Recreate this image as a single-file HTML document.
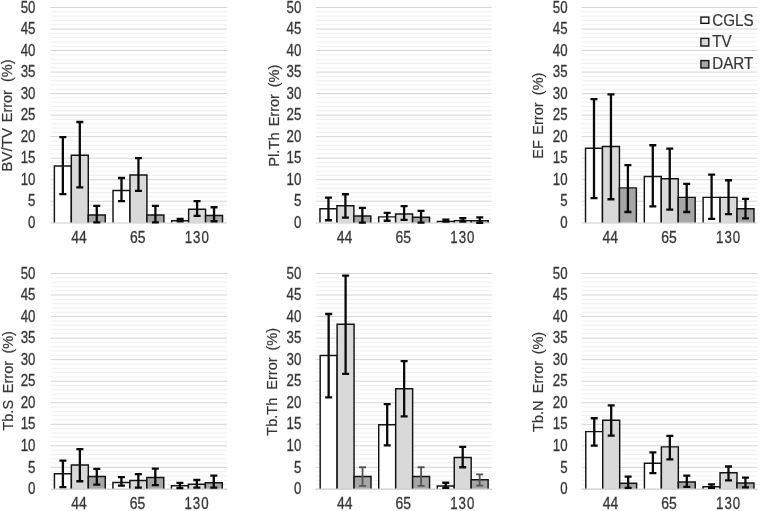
<!DOCTYPE html>
<html><head><meta charset="utf-8"><title>Error charts</title>
<style>
html,body{margin:0;padding:0;background:#fff;}
body{width:760px;height:511px;overflow:hidden;font-family:"Liberation Sans",sans-serif;}
svg{display:block;filter:grayscale(1) blur(0.4px);}
</style></head><body>
<svg width="760" height="511" viewBox="0 0 760 511" font-family="'Liberation Sans', sans-serif">
<rect width="760" height="511" fill="#fff"/>
<line x1="50.50" x2="227.00" y1="218.44" y2="218.44" stroke="#f0f0f0" stroke-width="1"/>
<line x1="50.50" x2="227.00" y1="214.14" y2="214.14" stroke="#f0f0f0" stroke-width="1"/>
<line x1="50.50" x2="227.00" y1="209.84" y2="209.84" stroke="#f0f0f0" stroke-width="1"/>
<line x1="50.50" x2="227.00" y1="205.53" y2="205.53" stroke="#f0f0f0" stroke-width="1"/>
<line x1="50.50" x2="227.00" y1="201.22" y2="201.22" stroke="#d4d4d4" stroke-width="1"/>
<line x1="50.50" x2="227.00" y1="196.92" y2="196.92" stroke="#f0f0f0" stroke-width="1"/>
<line x1="50.50" x2="227.00" y1="192.62" y2="192.62" stroke="#f0f0f0" stroke-width="1"/>
<line x1="50.50" x2="227.00" y1="188.31" y2="188.31" stroke="#f0f0f0" stroke-width="1"/>
<line x1="50.50" x2="227.00" y1="184.00" y2="184.00" stroke="#f0f0f0" stroke-width="1"/>
<line x1="50.50" x2="227.00" y1="179.70" y2="179.70" stroke="#d4d4d4" stroke-width="1"/>
<line x1="50.50" x2="227.00" y1="175.40" y2="175.40" stroke="#f0f0f0" stroke-width="1"/>
<line x1="50.50" x2="227.00" y1="171.09" y2="171.09" stroke="#f0f0f0" stroke-width="1"/>
<line x1="50.50" x2="227.00" y1="166.78" y2="166.78" stroke="#f0f0f0" stroke-width="1"/>
<line x1="50.50" x2="227.00" y1="162.48" y2="162.48" stroke="#f0f0f0" stroke-width="1"/>
<line x1="50.50" x2="227.00" y1="158.18" y2="158.18" stroke="#d4d4d4" stroke-width="1"/>
<line x1="50.50" x2="227.00" y1="153.87" y2="153.87" stroke="#f0f0f0" stroke-width="1"/>
<line x1="50.50" x2="227.00" y1="149.56" y2="149.56" stroke="#f0f0f0" stroke-width="1"/>
<line x1="50.50" x2="227.00" y1="145.26" y2="145.26" stroke="#f0f0f0" stroke-width="1"/>
<line x1="50.50" x2="227.00" y1="140.96" y2="140.96" stroke="#f0f0f0" stroke-width="1"/>
<line x1="50.50" x2="227.00" y1="136.65" y2="136.65" stroke="#d4d4d4" stroke-width="1"/>
<line x1="50.50" x2="227.00" y1="132.34" y2="132.34" stroke="#f0f0f0" stroke-width="1"/>
<line x1="50.50" x2="227.00" y1="128.04" y2="128.04" stroke="#f0f0f0" stroke-width="1"/>
<line x1="50.50" x2="227.00" y1="123.74" y2="123.74" stroke="#f0f0f0" stroke-width="1"/>
<line x1="50.50" x2="227.00" y1="119.43" y2="119.43" stroke="#f0f0f0" stroke-width="1"/>
<line x1="50.50" x2="227.00" y1="115.12" y2="115.12" stroke="#d4d4d4" stroke-width="1"/>
<line x1="50.50" x2="227.00" y1="110.82" y2="110.82" stroke="#f0f0f0" stroke-width="1"/>
<line x1="50.50" x2="227.00" y1="106.52" y2="106.52" stroke="#f0f0f0" stroke-width="1"/>
<line x1="50.50" x2="227.00" y1="102.21" y2="102.21" stroke="#f0f0f0" stroke-width="1"/>
<line x1="50.50" x2="227.00" y1="97.91" y2="97.91" stroke="#f0f0f0" stroke-width="1"/>
<line x1="50.50" x2="227.00" y1="93.60" y2="93.60" stroke="#d4d4d4" stroke-width="1"/>
<line x1="50.50" x2="227.00" y1="89.30" y2="89.30" stroke="#f0f0f0" stroke-width="1"/>
<line x1="50.50" x2="227.00" y1="84.99" y2="84.99" stroke="#f0f0f0" stroke-width="1"/>
<line x1="50.50" x2="227.00" y1="80.69" y2="80.69" stroke="#f0f0f0" stroke-width="1"/>
<line x1="50.50" x2="227.00" y1="76.38" y2="76.38" stroke="#f0f0f0" stroke-width="1"/>
<line x1="50.50" x2="227.00" y1="72.08" y2="72.08" stroke="#d4d4d4" stroke-width="1"/>
<line x1="50.50" x2="227.00" y1="67.77" y2="67.77" stroke="#f0f0f0" stroke-width="1"/>
<line x1="50.50" x2="227.00" y1="63.47" y2="63.47" stroke="#f0f0f0" stroke-width="1"/>
<line x1="50.50" x2="227.00" y1="59.16" y2="59.16" stroke="#f0f0f0" stroke-width="1"/>
<line x1="50.50" x2="227.00" y1="54.86" y2="54.86" stroke="#f0f0f0" stroke-width="1"/>
<line x1="50.50" x2="227.00" y1="50.55" y2="50.55" stroke="#d4d4d4" stroke-width="1"/>
<line x1="50.50" x2="227.00" y1="46.25" y2="46.25" stroke="#f0f0f0" stroke-width="1"/>
<line x1="50.50" x2="227.00" y1="41.94" y2="41.94" stroke="#f0f0f0" stroke-width="1"/>
<line x1="50.50" x2="227.00" y1="37.64" y2="37.64" stroke="#f0f0f0" stroke-width="1"/>
<line x1="50.50" x2="227.00" y1="33.33" y2="33.33" stroke="#f0f0f0" stroke-width="1"/>
<line x1="50.50" x2="227.00" y1="29.03" y2="29.03" stroke="#d4d4d4" stroke-width="1"/>
<line x1="50.50" x2="227.00" y1="24.72" y2="24.72" stroke="#f0f0f0" stroke-width="1"/>
<line x1="50.50" x2="227.00" y1="20.42" y2="20.42" stroke="#f0f0f0" stroke-width="1"/>
<line x1="50.50" x2="227.00" y1="16.11" y2="16.11" stroke="#f0f0f0" stroke-width="1"/>
<line x1="50.50" x2="227.00" y1="11.81" y2="11.81" stroke="#f0f0f0" stroke-width="1"/>
<line x1="50.50" x2="227.00" y1="7.50" y2="7.50" stroke="#d4d4d4" stroke-width="1"/>
<text transform="translate(35.50,227.95) scale(0.83,1)" font-size="16" fill="#363636" text-anchor="end" stroke="#363636" stroke-width="0.3" xml:space="preserve">0</text>
<text transform="translate(35.50,206.42) scale(0.83,1)" font-size="16" fill="#363636" text-anchor="end" stroke="#363636" stroke-width="0.3" xml:space="preserve">5</text>
<text transform="translate(35.50,184.90) scale(0.83,1)" font-size="16" fill="#363636" text-anchor="end" stroke="#363636" stroke-width="0.3" xml:space="preserve">10</text>
<text transform="translate(35.50,163.38) scale(0.83,1)" font-size="16" fill="#363636" text-anchor="end" stroke="#363636" stroke-width="0.3" xml:space="preserve">15</text>
<text transform="translate(35.50,141.85) scale(0.83,1)" font-size="16" fill="#363636" text-anchor="end" stroke="#363636" stroke-width="0.3" xml:space="preserve">20</text>
<text transform="translate(35.50,120.33) scale(0.83,1)" font-size="16" fill="#363636" text-anchor="end" stroke="#363636" stroke-width="0.3" xml:space="preserve">25</text>
<text transform="translate(35.50,98.80) scale(0.83,1)" font-size="16" fill="#363636" text-anchor="end" stroke="#363636" stroke-width="0.3" xml:space="preserve">30</text>
<text transform="translate(35.50,77.28) scale(0.83,1)" font-size="16" fill="#363636" text-anchor="end" stroke="#363636" stroke-width="0.3" xml:space="preserve">35</text>
<text transform="translate(35.50,55.75) scale(0.83,1)" font-size="16" fill="#363636" text-anchor="end" stroke="#363636" stroke-width="0.3" xml:space="preserve">40</text>
<text transform="translate(35.50,34.23) scale(0.83,1)" font-size="16" fill="#363636" text-anchor="end" stroke="#363636" stroke-width="0.3" xml:space="preserve">45</text>
<text transform="translate(35.50,12.70) scale(0.83,1)" font-size="16" fill="#363636" text-anchor="end" stroke="#363636" stroke-width="0.3" xml:space="preserve">50</text>
<text transform="translate(12.10,171.86) rotate(-90) scale(1.005,1)" font-size="15.2" fill="#363636" text-anchor="start" stroke="#363636" stroke-width="0.2" xml:space="preserve">BV/TV</text>
<text transform="translate(12.10,122.30) rotate(-90) scale(0.955,1)" font-size="15.2" fill="#363636" text-anchor="start" stroke="#363636" stroke-width="0.2" xml:space="preserve">Error</text>
<text transform="translate(12.10,81.97) rotate(-90) scale(0.955,1)" font-size="15.2" fill="#363636" text-anchor="start" stroke="#363636" stroke-width="0.2" xml:space="preserve">(%)</text>
<path d="M54.38 222.75V165.92h16.95V222.75" fill="#ffffff" stroke="#141414" stroke-width="1.45"/>
<path d="M71.33 222.75V155.16h16.95V222.75" fill="#d9d9d9" stroke="#141414" stroke-width="1.45"/>
<path d="M88.28 222.75V215.00h16.95V222.75" fill="#a6a6a6" stroke="#141414" stroke-width="1.45"/>
<path d="M113.02 222.75V190.46h16.95V222.75" fill="#ffffff" stroke="#141414" stroke-width="1.45"/>
<path d="M129.97 222.75V174.96h16.95V222.75" fill="#d9d9d9" stroke="#141414" stroke-width="1.45"/>
<path d="M146.92 222.75V215.00h16.95V222.75" fill="#a6a6a6" stroke="#141414" stroke-width="1.45"/>
<path d="M171.68 222.75V220.81h16.95V222.75" fill="#ffffff" stroke="#141414" stroke-width="1.45"/>
<path d="M188.62 222.75V209.19h16.95V222.75" fill="#d9d9d9" stroke="#141414" stroke-width="1.45"/>
<path d="M205.58 222.75V215.43h16.95V222.75" fill="#a6a6a6" stroke="#141414" stroke-width="1.45"/>
<line x1="50.50" x2="227.00" y1="223.00" y2="223.00" stroke="#cccccc" stroke-width="1.1"/>
<path d="M62.85 137.08V194.12M59.35 137.08h7M59.35 194.12h7" stroke="#0a0a0a" stroke-width="2.3" fill="none"/>
<path d="M79.80 122.01V187.45M76.30 122.01h7M76.30 187.45h7" stroke="#0a0a0a" stroke-width="2.3" fill="none"/>
<path d="M96.75 205.96V222.32M93.25 205.96h7M93.25 222.32h7" stroke="#0a0a0a" stroke-width="2.3" fill="none"/>
<text transform="translate(79.00,242.75) scale(0.87,1)" font-size="16" fill="#363636" text-anchor="middle" stroke="#363636" stroke-width="0.3" xml:space="preserve">44</text>
<path d="M121.50 177.98V201.22M118.00 177.98h7M118.00 201.22h7" stroke="#0a0a0a" stroke-width="2.3" fill="none"/>
<path d="M138.45 158.18V190.89M134.95 158.18h7M134.95 190.89h7" stroke="#0a0a0a" stroke-width="2.3" fill="none"/>
<path d="M155.40 205.96V222.32M151.90 205.96h7M151.90 222.32h7" stroke="#0a0a0a" stroke-width="2.3" fill="none"/>
<text transform="translate(137.65,242.75) scale(0.87,1)" font-size="16" fill="#363636" text-anchor="middle" stroke="#363636" stroke-width="0.3" xml:space="preserve">65</text>
<path d="M180.15 218.88V221.24M176.65 218.88h7M176.65 221.24h7" stroke="#0a0a0a" stroke-width="2.3" fill="none"/>
<path d="M197.10 201.22V215.86M193.60 201.22h7M193.60 215.86h7" stroke="#0a0a0a" stroke-width="2.3" fill="none"/>
<path d="M214.05 207.25V221.24M210.55 207.25h7M210.55 221.24h7" stroke="#0a0a0a" stroke-width="2.3" fill="none"/>
<text transform="translate(197.20,242.75) scale(0.83,1)" font-size="16" fill="#363636" text-anchor="middle" letter-spacing="1.2" stroke="#363636" stroke-width="0.3" xml:space="preserve">130</text>
<line x1="316.00" x2="491.60" y1="218.44" y2="218.44" stroke="#f0f0f0" stroke-width="1"/>
<line x1="316.00" x2="491.60" y1="214.14" y2="214.14" stroke="#f0f0f0" stroke-width="1"/>
<line x1="316.00" x2="491.60" y1="209.84" y2="209.84" stroke="#f0f0f0" stroke-width="1"/>
<line x1="316.00" x2="491.60" y1="205.53" y2="205.53" stroke="#f0f0f0" stroke-width="1"/>
<line x1="316.00" x2="491.60" y1="201.22" y2="201.22" stroke="#d4d4d4" stroke-width="1"/>
<line x1="316.00" x2="491.60" y1="196.92" y2="196.92" stroke="#f0f0f0" stroke-width="1"/>
<line x1="316.00" x2="491.60" y1="192.62" y2="192.62" stroke="#f0f0f0" stroke-width="1"/>
<line x1="316.00" x2="491.60" y1="188.31" y2="188.31" stroke="#f0f0f0" stroke-width="1"/>
<line x1="316.00" x2="491.60" y1="184.00" y2="184.00" stroke="#f0f0f0" stroke-width="1"/>
<line x1="316.00" x2="491.60" y1="179.70" y2="179.70" stroke="#d4d4d4" stroke-width="1"/>
<line x1="316.00" x2="491.60" y1="175.40" y2="175.40" stroke="#f0f0f0" stroke-width="1"/>
<line x1="316.00" x2="491.60" y1="171.09" y2="171.09" stroke="#f0f0f0" stroke-width="1"/>
<line x1="316.00" x2="491.60" y1="166.78" y2="166.78" stroke="#f0f0f0" stroke-width="1"/>
<line x1="316.00" x2="491.60" y1="162.48" y2="162.48" stroke="#f0f0f0" stroke-width="1"/>
<line x1="316.00" x2="491.60" y1="158.18" y2="158.18" stroke="#d4d4d4" stroke-width="1"/>
<line x1="316.00" x2="491.60" y1="153.87" y2="153.87" stroke="#f0f0f0" stroke-width="1"/>
<line x1="316.00" x2="491.60" y1="149.56" y2="149.56" stroke="#f0f0f0" stroke-width="1"/>
<line x1="316.00" x2="491.60" y1="145.26" y2="145.26" stroke="#f0f0f0" stroke-width="1"/>
<line x1="316.00" x2="491.60" y1="140.96" y2="140.96" stroke="#f0f0f0" stroke-width="1"/>
<line x1="316.00" x2="491.60" y1="136.65" y2="136.65" stroke="#d4d4d4" stroke-width="1"/>
<line x1="316.00" x2="491.60" y1="132.34" y2="132.34" stroke="#f0f0f0" stroke-width="1"/>
<line x1="316.00" x2="491.60" y1="128.04" y2="128.04" stroke="#f0f0f0" stroke-width="1"/>
<line x1="316.00" x2="491.60" y1="123.74" y2="123.74" stroke="#f0f0f0" stroke-width="1"/>
<line x1="316.00" x2="491.60" y1="119.43" y2="119.43" stroke="#f0f0f0" stroke-width="1"/>
<line x1="316.00" x2="491.60" y1="115.12" y2="115.12" stroke="#d4d4d4" stroke-width="1"/>
<line x1="316.00" x2="491.60" y1="110.82" y2="110.82" stroke="#f0f0f0" stroke-width="1"/>
<line x1="316.00" x2="491.60" y1="106.52" y2="106.52" stroke="#f0f0f0" stroke-width="1"/>
<line x1="316.00" x2="491.60" y1="102.21" y2="102.21" stroke="#f0f0f0" stroke-width="1"/>
<line x1="316.00" x2="491.60" y1="97.91" y2="97.91" stroke="#f0f0f0" stroke-width="1"/>
<line x1="316.00" x2="491.60" y1="93.60" y2="93.60" stroke="#d4d4d4" stroke-width="1"/>
<line x1="316.00" x2="491.60" y1="89.30" y2="89.30" stroke="#f0f0f0" stroke-width="1"/>
<line x1="316.00" x2="491.60" y1="84.99" y2="84.99" stroke="#f0f0f0" stroke-width="1"/>
<line x1="316.00" x2="491.60" y1="80.69" y2="80.69" stroke="#f0f0f0" stroke-width="1"/>
<line x1="316.00" x2="491.60" y1="76.38" y2="76.38" stroke="#f0f0f0" stroke-width="1"/>
<line x1="316.00" x2="491.60" y1="72.08" y2="72.08" stroke="#d4d4d4" stroke-width="1"/>
<line x1="316.00" x2="491.60" y1="67.77" y2="67.77" stroke="#f0f0f0" stroke-width="1"/>
<line x1="316.00" x2="491.60" y1="63.47" y2="63.47" stroke="#f0f0f0" stroke-width="1"/>
<line x1="316.00" x2="491.60" y1="59.16" y2="59.16" stroke="#f0f0f0" stroke-width="1"/>
<line x1="316.00" x2="491.60" y1="54.86" y2="54.86" stroke="#f0f0f0" stroke-width="1"/>
<line x1="316.00" x2="491.60" y1="50.55" y2="50.55" stroke="#d4d4d4" stroke-width="1"/>
<line x1="316.00" x2="491.60" y1="46.25" y2="46.25" stroke="#f0f0f0" stroke-width="1"/>
<line x1="316.00" x2="491.60" y1="41.94" y2="41.94" stroke="#f0f0f0" stroke-width="1"/>
<line x1="316.00" x2="491.60" y1="37.64" y2="37.64" stroke="#f0f0f0" stroke-width="1"/>
<line x1="316.00" x2="491.60" y1="33.33" y2="33.33" stroke="#f0f0f0" stroke-width="1"/>
<line x1="316.00" x2="491.60" y1="29.03" y2="29.03" stroke="#d4d4d4" stroke-width="1"/>
<line x1="316.00" x2="491.60" y1="24.72" y2="24.72" stroke="#f0f0f0" stroke-width="1"/>
<line x1="316.00" x2="491.60" y1="20.42" y2="20.42" stroke="#f0f0f0" stroke-width="1"/>
<line x1="316.00" x2="491.60" y1="16.11" y2="16.11" stroke="#f0f0f0" stroke-width="1"/>
<line x1="316.00" x2="491.60" y1="11.81" y2="11.81" stroke="#f0f0f0" stroke-width="1"/>
<line x1="316.00" x2="491.60" y1="7.50" y2="7.50" stroke="#d4d4d4" stroke-width="1"/>
<text transform="translate(301.30,227.95) scale(0.83,1)" font-size="16" fill="#363636" text-anchor="end" stroke="#363636" stroke-width="0.3" xml:space="preserve">0</text>
<text transform="translate(301.30,206.42) scale(0.83,1)" font-size="16" fill="#363636" text-anchor="end" stroke="#363636" stroke-width="0.3" xml:space="preserve">5</text>
<text transform="translate(301.30,184.90) scale(0.83,1)" font-size="16" fill="#363636" text-anchor="end" stroke="#363636" stroke-width="0.3" xml:space="preserve">10</text>
<text transform="translate(301.30,163.38) scale(0.83,1)" font-size="16" fill="#363636" text-anchor="end" stroke="#363636" stroke-width="0.3" xml:space="preserve">15</text>
<text transform="translate(301.30,141.85) scale(0.83,1)" font-size="16" fill="#363636" text-anchor="end" stroke="#363636" stroke-width="0.3" xml:space="preserve">20</text>
<text transform="translate(301.30,120.33) scale(0.83,1)" font-size="16" fill="#363636" text-anchor="end" stroke="#363636" stroke-width="0.3" xml:space="preserve">25</text>
<text transform="translate(301.30,98.80) scale(0.83,1)" font-size="16" fill="#363636" text-anchor="end" stroke="#363636" stroke-width="0.3" xml:space="preserve">30</text>
<text transform="translate(301.30,77.28) scale(0.83,1)" font-size="16" fill="#363636" text-anchor="end" stroke="#363636" stroke-width="0.3" xml:space="preserve">35</text>
<text transform="translate(301.30,55.75) scale(0.83,1)" font-size="16" fill="#363636" text-anchor="end" stroke="#363636" stroke-width="0.3" xml:space="preserve">40</text>
<text transform="translate(301.30,34.23) scale(0.83,1)" font-size="16" fill="#363636" text-anchor="end" stroke="#363636" stroke-width="0.3" xml:space="preserve">45</text>
<text transform="translate(301.30,12.70) scale(0.83,1)" font-size="16" fill="#363636" text-anchor="end" stroke="#363636" stroke-width="0.3" xml:space="preserve">50</text>
<text transform="translate(278.60,166.86) rotate(-90) scale(0.975,1)" font-size="15.2" fill="#363636" text-anchor="start" stroke="#363636" stroke-width="0.2" xml:space="preserve">Pl.Th</text>
<text transform="translate(278.60,126.36) rotate(-90) scale(0.955,1)" font-size="15.2" fill="#363636" text-anchor="start" stroke="#363636" stroke-width="0.2" xml:space="preserve">Error</text>
<text transform="translate(278.60,87.22) rotate(-90) scale(0.955,1)" font-size="15.2" fill="#363636" text-anchor="start" stroke="#363636" stroke-width="0.2" xml:space="preserve">(%)</text>
<path d="M319.97 222.75V208.76h16.95V222.75" fill="#ffffff" stroke="#141414" stroke-width="1.45"/>
<path d="M336.92 222.75V205.70h16.95V222.75" fill="#d9d9d9" stroke="#141414" stroke-width="1.45"/>
<path d="M353.87 222.75V215.99h16.95V222.75" fill="#a6a6a6" stroke="#141414" stroke-width="1.45"/>
<path d="M378.67 222.75V216.85h16.95V222.75" fill="#ffffff" stroke="#141414" stroke-width="1.45"/>
<path d="M395.62 222.75V213.92h16.95V222.75" fill="#d9d9d9" stroke="#141414" stroke-width="1.45"/>
<path d="M412.57 222.75V217.15h16.95V222.75" fill="#a6a6a6" stroke="#141414" stroke-width="1.45"/>
<path d="M437.37 222.75V221.46h16.95V222.75" fill="#ffffff" stroke="#141414" stroke-width="1.45"/>
<path d="M454.32 222.75V220.60h16.95V222.75" fill="#d9d9d9" stroke="#141414" stroke-width="1.45"/>
<path d="M471.27 222.75V220.60h16.95V222.75" fill="#a6a6a6" stroke="#141414" stroke-width="1.45"/>
<line x1="316.00" x2="491.60" y1="223.00" y2="223.00" stroke="#cccccc" stroke-width="1.1"/>
<path d="M328.45 197.65V220.25M324.95 197.65h7M324.95 220.25h7" stroke="#0a0a0a" stroke-width="2.3" fill="none"/>
<path d="M345.40 194.25V217.67M341.90 194.25h7M341.90 217.67h7" stroke="#0a0a0a" stroke-width="2.3" fill="none"/>
<path d="M362.35 207.94V222.53M358.85 207.94h7M358.85 222.53h7" stroke="#0a0a0a" stroke-width="2.3" fill="none"/>
<text transform="translate(344.60,242.75) scale(0.87,1)" font-size="16" fill="#363636" text-anchor="middle" stroke="#363636" stroke-width="0.3" xml:space="preserve">44</text>
<path d="M387.15 212.89V220.77M383.65 212.89h7M383.65 220.77h7" stroke="#0a0a0a" stroke-width="2.3" fill="none"/>
<path d="M404.10 206.22V219.91M400.60 206.22h7M400.60 219.91h7" stroke="#0a0a0a" stroke-width="2.3" fill="none"/>
<path d="M421.05 210.83V222.53M417.55 210.83h7M417.55 222.53h7" stroke="#0a0a0a" stroke-width="2.3" fill="none"/>
<text transform="translate(403.30,242.75) scale(0.87,1)" font-size="16" fill="#363636" text-anchor="middle" stroke="#363636" stroke-width="0.3" xml:space="preserve">65</text>
<path d="M445.85 219.74V221.67M442.35 219.74h7M442.35 221.67h7" stroke="#0a0a0a" stroke-width="2.3" fill="none"/>
<path d="M462.80 218.23V221.67M459.30 218.23h7M459.30 221.67h7" stroke="#0a0a0a" stroke-width="2.3" fill="none"/>
<path d="M479.75 217.28V222.75M476.25 217.28h7M476.25 222.75h7" stroke="#0a0a0a" stroke-width="2.3" fill="none"/>
<text transform="translate(462.90,242.75) scale(0.83,1)" font-size="16" fill="#363636" text-anchor="middle" letter-spacing="1.2" stroke="#363636" stroke-width="0.3" xml:space="preserve">130</text>
<line x1="581.60" x2="757.30" y1="218.44" y2="218.44" stroke="#f0f0f0" stroke-width="1"/>
<line x1="581.60" x2="757.30" y1="214.14" y2="214.14" stroke="#f0f0f0" stroke-width="1"/>
<line x1="581.60" x2="757.30" y1="209.84" y2="209.84" stroke="#f0f0f0" stroke-width="1"/>
<line x1="581.60" x2="757.30" y1="205.53" y2="205.53" stroke="#f0f0f0" stroke-width="1"/>
<line x1="581.60" x2="757.30" y1="201.22" y2="201.22" stroke="#d4d4d4" stroke-width="1"/>
<line x1="581.60" x2="757.30" y1="196.92" y2="196.92" stroke="#f0f0f0" stroke-width="1"/>
<line x1="581.60" x2="757.30" y1="192.62" y2="192.62" stroke="#f0f0f0" stroke-width="1"/>
<line x1="581.60" x2="757.30" y1="188.31" y2="188.31" stroke="#f0f0f0" stroke-width="1"/>
<line x1="581.60" x2="757.30" y1="184.00" y2="184.00" stroke="#f0f0f0" stroke-width="1"/>
<line x1="581.60" x2="757.30" y1="179.70" y2="179.70" stroke="#d4d4d4" stroke-width="1"/>
<line x1="581.60" x2="757.30" y1="175.40" y2="175.40" stroke="#f0f0f0" stroke-width="1"/>
<line x1="581.60" x2="757.30" y1="171.09" y2="171.09" stroke="#f0f0f0" stroke-width="1"/>
<line x1="581.60" x2="757.30" y1="166.78" y2="166.78" stroke="#f0f0f0" stroke-width="1"/>
<line x1="581.60" x2="757.30" y1="162.48" y2="162.48" stroke="#f0f0f0" stroke-width="1"/>
<line x1="581.60" x2="757.30" y1="158.18" y2="158.18" stroke="#d4d4d4" stroke-width="1"/>
<line x1="581.60" x2="757.30" y1="153.87" y2="153.87" stroke="#f0f0f0" stroke-width="1"/>
<line x1="581.60" x2="757.30" y1="149.56" y2="149.56" stroke="#f0f0f0" stroke-width="1"/>
<line x1="581.60" x2="757.30" y1="145.26" y2="145.26" stroke="#f0f0f0" stroke-width="1"/>
<line x1="581.60" x2="757.30" y1="140.96" y2="140.96" stroke="#f0f0f0" stroke-width="1"/>
<line x1="581.60" x2="757.30" y1="136.65" y2="136.65" stroke="#d4d4d4" stroke-width="1"/>
<line x1="581.60" x2="757.30" y1="132.34" y2="132.34" stroke="#f0f0f0" stroke-width="1"/>
<line x1="581.60" x2="757.30" y1="128.04" y2="128.04" stroke="#f0f0f0" stroke-width="1"/>
<line x1="581.60" x2="757.30" y1="123.74" y2="123.74" stroke="#f0f0f0" stroke-width="1"/>
<line x1="581.60" x2="757.30" y1="119.43" y2="119.43" stroke="#f0f0f0" stroke-width="1"/>
<line x1="581.60" x2="757.30" y1="115.12" y2="115.12" stroke="#d4d4d4" stroke-width="1"/>
<line x1="581.60" x2="757.30" y1="110.82" y2="110.82" stroke="#f0f0f0" stroke-width="1"/>
<line x1="581.60" x2="757.30" y1="106.52" y2="106.52" stroke="#f0f0f0" stroke-width="1"/>
<line x1="581.60" x2="757.30" y1="102.21" y2="102.21" stroke="#f0f0f0" stroke-width="1"/>
<line x1="581.60" x2="757.30" y1="97.91" y2="97.91" stroke="#f0f0f0" stroke-width="1"/>
<line x1="581.60" x2="757.30" y1="93.60" y2="93.60" stroke="#d4d4d4" stroke-width="1"/>
<line x1="581.60" x2="757.30" y1="89.30" y2="89.30" stroke="#f0f0f0" stroke-width="1"/>
<line x1="581.60" x2="757.30" y1="84.99" y2="84.99" stroke="#f0f0f0" stroke-width="1"/>
<line x1="581.60" x2="757.30" y1="80.69" y2="80.69" stroke="#f0f0f0" stroke-width="1"/>
<line x1="581.60" x2="757.30" y1="76.38" y2="76.38" stroke="#f0f0f0" stroke-width="1"/>
<line x1="581.60" x2="757.30" y1="72.08" y2="72.08" stroke="#d4d4d4" stroke-width="1"/>
<line x1="581.60" x2="757.30" y1="67.77" y2="67.77" stroke="#f0f0f0" stroke-width="1"/>
<line x1="581.60" x2="757.30" y1="63.47" y2="63.47" stroke="#f0f0f0" stroke-width="1"/>
<line x1="581.60" x2="757.30" y1="59.16" y2="59.16" stroke="#f0f0f0" stroke-width="1"/>
<line x1="581.60" x2="757.30" y1="54.86" y2="54.86" stroke="#f0f0f0" stroke-width="1"/>
<line x1="581.60" x2="757.30" y1="50.55" y2="50.55" stroke="#d4d4d4" stroke-width="1"/>
<line x1="581.60" x2="757.30" y1="46.25" y2="46.25" stroke="#f0f0f0" stroke-width="1"/>
<line x1="581.60" x2="757.30" y1="41.94" y2="41.94" stroke="#f0f0f0" stroke-width="1"/>
<line x1="581.60" x2="757.30" y1="37.64" y2="37.64" stroke="#f0f0f0" stroke-width="1"/>
<line x1="581.60" x2="757.30" y1="33.33" y2="33.33" stroke="#f0f0f0" stroke-width="1"/>
<line x1="581.60" x2="757.30" y1="29.03" y2="29.03" stroke="#d4d4d4" stroke-width="1"/>
<line x1="581.60" x2="757.30" y1="24.72" y2="24.72" stroke="#f0f0f0" stroke-width="1"/>
<line x1="581.60" x2="757.30" y1="20.42" y2="20.42" stroke="#f0f0f0" stroke-width="1"/>
<line x1="581.60" x2="757.30" y1="16.11" y2="16.11" stroke="#f0f0f0" stroke-width="1"/>
<line x1="581.60" x2="757.30" y1="11.81" y2="11.81" stroke="#f0f0f0" stroke-width="1"/>
<line x1="581.60" x2="757.30" y1="7.50" y2="7.50" stroke="#d4d4d4" stroke-width="1"/>
<text transform="translate(567.60,227.95) scale(0.83,1)" font-size="16" fill="#363636" text-anchor="end" stroke="#363636" stroke-width="0.3" xml:space="preserve">0</text>
<text transform="translate(567.60,206.42) scale(0.83,1)" font-size="16" fill="#363636" text-anchor="end" stroke="#363636" stroke-width="0.3" xml:space="preserve">5</text>
<text transform="translate(567.60,184.90) scale(0.83,1)" font-size="16" fill="#363636" text-anchor="end" stroke="#363636" stroke-width="0.3" xml:space="preserve">10</text>
<text transform="translate(567.60,163.38) scale(0.83,1)" font-size="16" fill="#363636" text-anchor="end" stroke="#363636" stroke-width="0.3" xml:space="preserve">15</text>
<text transform="translate(567.60,141.85) scale(0.83,1)" font-size="16" fill="#363636" text-anchor="end" stroke="#363636" stroke-width="0.3" xml:space="preserve">20</text>
<text transform="translate(567.60,120.33) scale(0.83,1)" font-size="16" fill="#363636" text-anchor="end" stroke="#363636" stroke-width="0.3" xml:space="preserve">25</text>
<text transform="translate(567.60,98.80) scale(0.83,1)" font-size="16" fill="#363636" text-anchor="end" stroke="#363636" stroke-width="0.3" xml:space="preserve">30</text>
<text transform="translate(567.60,77.28) scale(0.83,1)" font-size="16" fill="#363636" text-anchor="end" stroke="#363636" stroke-width="0.3" xml:space="preserve">35</text>
<text transform="translate(567.60,55.75) scale(0.83,1)" font-size="16" fill="#363636" text-anchor="end" stroke="#363636" stroke-width="0.3" xml:space="preserve">40</text>
<text transform="translate(567.60,34.23) scale(0.83,1)" font-size="16" fill="#363636" text-anchor="end" stroke="#363636" stroke-width="0.3" xml:space="preserve">45</text>
<text transform="translate(567.60,12.70) scale(0.83,1)" font-size="16" fill="#363636" text-anchor="end" stroke="#363636" stroke-width="0.3" xml:space="preserve">50</text>
<text transform="translate(542.70,158.66) rotate(-90) scale(0.955,1)" font-size="15.2" fill="#363636" text-anchor="start" stroke="#363636" stroke-width="0.2" xml:space="preserve">EF</text>
<text transform="translate(542.70,134.66) rotate(-90) scale(0.955,1)" font-size="15.2" fill="#363636" text-anchor="start" stroke="#363636" stroke-width="0.2" xml:space="preserve">Error</text>
<text transform="translate(542.70,95.17) rotate(-90) scale(0.955,1)" font-size="15.2" fill="#363636" text-anchor="start" stroke="#363636" stroke-width="0.2" xml:space="preserve">(%)</text>
<path d="M585.53 222.75V148.27h16.95V222.75" fill="#ffffff" stroke="#141414" stroke-width="1.45"/>
<path d="M602.48 222.75V146.55h16.95V222.75" fill="#d9d9d9" stroke="#141414" stroke-width="1.45"/>
<path d="M619.43 222.75V187.88h16.95V222.75" fill="#a6a6a6" stroke="#141414" stroke-width="1.45"/>
<path d="M644.33 222.75V176.47h16.95V222.75" fill="#ffffff" stroke="#141414" stroke-width="1.45"/>
<path d="M661.28 222.75V178.84h16.95V222.75" fill="#d9d9d9" stroke="#141414" stroke-width="1.45"/>
<path d="M678.23 222.75V197.35h16.95V222.75" fill="#a6a6a6" stroke="#141414" stroke-width="1.45"/>
<path d="M703.13 222.75V197.35h16.95V222.75" fill="#ffffff" stroke="#141414" stroke-width="1.45"/>
<path d="M720.08 222.75V197.35h16.95V222.75" fill="#d9d9d9" stroke="#141414" stroke-width="1.45"/>
<path d="M737.03 222.75V208.67h16.95V222.75" fill="#a6a6a6" stroke="#141414" stroke-width="1.45"/>
<line x1="581.60" x2="757.30" y1="223.00" y2="223.00" stroke="#cccccc" stroke-width="1.1"/>
<path d="M594.00 99.20V198.04M590.50 99.20h7M590.50 198.04h7" stroke="#0a0a0a" stroke-width="2.3" fill="none"/>
<path d="M610.95 94.46V199.24M607.45 94.46h7M607.45 199.24h7" stroke="#0a0a0a" stroke-width="2.3" fill="none"/>
<path d="M627.90 165.06V211.99M624.40 165.06h7M624.40 211.99h7" stroke="#0a0a0a" stroke-width="2.3" fill="none"/>
<text transform="translate(610.15,242.75) scale(0.87,1)" font-size="16" fill="#363636" text-anchor="middle" stroke="#363636" stroke-width="0.3" xml:space="preserve">44</text>
<path d="M652.80 145.26V206.39M649.30 145.26h7M649.30 206.39h7" stroke="#0a0a0a" stroke-width="2.3" fill="none"/>
<path d="M669.75 148.70V209.62M666.25 148.70h7M666.25 209.62h7" stroke="#0a0a0a" stroke-width="2.3" fill="none"/>
<path d="M686.70 183.79V211.99M683.20 183.79h7M683.20 211.99h7" stroke="#0a0a0a" stroke-width="2.3" fill="none"/>
<text transform="translate(668.95,242.75) scale(0.87,1)" font-size="16" fill="#363636" text-anchor="middle" stroke="#363636" stroke-width="0.3" xml:space="preserve">65</text>
<path d="M711.60 174.53V218.88M708.10 174.53h7M708.10 218.88h7" stroke="#0a0a0a" stroke-width="2.3" fill="none"/>
<path d="M728.55 180.26V214.14M725.05 180.26h7M725.05 214.14h7" stroke="#0a0a0a" stroke-width="2.3" fill="none"/>
<path d="M745.50 198.86V218.44M742.00 198.86h7M742.00 218.44h7" stroke="#0a0a0a" stroke-width="2.3" fill="none"/>
<text transform="translate(728.65,242.75) scale(0.83,1)" font-size="16" fill="#363636" text-anchor="middle" letter-spacing="1.2" stroke="#363636" stroke-width="0.3" xml:space="preserve">130</text>
<line x1="50.80" x2="227.10" y1="484.59" y2="484.59" stroke="#f0f0f0" stroke-width="1"/>
<line x1="50.80" x2="227.10" y1="480.28" y2="480.28" stroke="#f0f0f0" stroke-width="1"/>
<line x1="50.80" x2="227.10" y1="475.98" y2="475.98" stroke="#f0f0f0" stroke-width="1"/>
<line x1="50.80" x2="227.10" y1="471.67" y2="471.67" stroke="#f0f0f0" stroke-width="1"/>
<line x1="50.80" x2="227.10" y1="467.36" y2="467.36" stroke="#d4d4d4" stroke-width="1"/>
<line x1="50.80" x2="227.10" y1="463.05" y2="463.05" stroke="#f0f0f0" stroke-width="1"/>
<line x1="50.80" x2="227.10" y1="458.74" y2="458.74" stroke="#f0f0f0" stroke-width="1"/>
<line x1="50.80" x2="227.10" y1="454.44" y2="454.44" stroke="#f0f0f0" stroke-width="1"/>
<line x1="50.80" x2="227.10" y1="450.13" y2="450.13" stroke="#f0f0f0" stroke-width="1"/>
<line x1="50.80" x2="227.10" y1="445.82" y2="445.82" stroke="#d4d4d4" stroke-width="1"/>
<line x1="50.80" x2="227.10" y1="441.51" y2="441.51" stroke="#f0f0f0" stroke-width="1"/>
<line x1="50.80" x2="227.10" y1="437.20" y2="437.20" stroke="#f0f0f0" stroke-width="1"/>
<line x1="50.80" x2="227.10" y1="432.90" y2="432.90" stroke="#f0f0f0" stroke-width="1"/>
<line x1="50.80" x2="227.10" y1="428.59" y2="428.59" stroke="#f0f0f0" stroke-width="1"/>
<line x1="50.80" x2="227.10" y1="424.28" y2="424.28" stroke="#d4d4d4" stroke-width="1"/>
<line x1="50.80" x2="227.10" y1="419.97" y2="419.97" stroke="#f0f0f0" stroke-width="1"/>
<line x1="50.80" x2="227.10" y1="415.66" y2="415.66" stroke="#f0f0f0" stroke-width="1"/>
<line x1="50.80" x2="227.10" y1="411.36" y2="411.36" stroke="#f0f0f0" stroke-width="1"/>
<line x1="50.80" x2="227.10" y1="407.05" y2="407.05" stroke="#f0f0f0" stroke-width="1"/>
<line x1="50.80" x2="227.10" y1="402.74" y2="402.74" stroke="#d4d4d4" stroke-width="1"/>
<line x1="50.80" x2="227.10" y1="398.43" y2="398.43" stroke="#f0f0f0" stroke-width="1"/>
<line x1="50.80" x2="227.10" y1="394.12" y2="394.12" stroke="#f0f0f0" stroke-width="1"/>
<line x1="50.80" x2="227.10" y1="389.82" y2="389.82" stroke="#f0f0f0" stroke-width="1"/>
<line x1="50.80" x2="227.10" y1="385.51" y2="385.51" stroke="#f0f0f0" stroke-width="1"/>
<line x1="50.80" x2="227.10" y1="381.20" y2="381.20" stroke="#d4d4d4" stroke-width="1"/>
<line x1="50.80" x2="227.10" y1="376.89" y2="376.89" stroke="#f0f0f0" stroke-width="1"/>
<line x1="50.80" x2="227.10" y1="372.58" y2="372.58" stroke="#f0f0f0" stroke-width="1"/>
<line x1="50.80" x2="227.10" y1="368.28" y2="368.28" stroke="#f0f0f0" stroke-width="1"/>
<line x1="50.80" x2="227.10" y1="363.97" y2="363.97" stroke="#f0f0f0" stroke-width="1"/>
<line x1="50.80" x2="227.10" y1="359.66" y2="359.66" stroke="#d4d4d4" stroke-width="1"/>
<line x1="50.80" x2="227.10" y1="355.35" y2="355.35" stroke="#f0f0f0" stroke-width="1"/>
<line x1="50.80" x2="227.10" y1="351.04" y2="351.04" stroke="#f0f0f0" stroke-width="1"/>
<line x1="50.80" x2="227.10" y1="346.74" y2="346.74" stroke="#f0f0f0" stroke-width="1"/>
<line x1="50.80" x2="227.10" y1="342.43" y2="342.43" stroke="#f0f0f0" stroke-width="1"/>
<line x1="50.80" x2="227.10" y1="338.12" y2="338.12" stroke="#d4d4d4" stroke-width="1"/>
<line x1="50.80" x2="227.10" y1="333.81" y2="333.81" stroke="#f0f0f0" stroke-width="1"/>
<line x1="50.80" x2="227.10" y1="329.50" y2="329.50" stroke="#f0f0f0" stroke-width="1"/>
<line x1="50.80" x2="227.10" y1="325.20" y2="325.20" stroke="#f0f0f0" stroke-width="1"/>
<line x1="50.80" x2="227.10" y1="320.89" y2="320.89" stroke="#f0f0f0" stroke-width="1"/>
<line x1="50.80" x2="227.10" y1="316.58" y2="316.58" stroke="#d4d4d4" stroke-width="1"/>
<line x1="50.80" x2="227.10" y1="312.27" y2="312.27" stroke="#f0f0f0" stroke-width="1"/>
<line x1="50.80" x2="227.10" y1="307.96" y2="307.96" stroke="#f0f0f0" stroke-width="1"/>
<line x1="50.80" x2="227.10" y1="303.66" y2="303.66" stroke="#f0f0f0" stroke-width="1"/>
<line x1="50.80" x2="227.10" y1="299.35" y2="299.35" stroke="#f0f0f0" stroke-width="1"/>
<line x1="50.80" x2="227.10" y1="295.04" y2="295.04" stroke="#d4d4d4" stroke-width="1"/>
<line x1="50.80" x2="227.10" y1="290.73" y2="290.73" stroke="#f0f0f0" stroke-width="1"/>
<line x1="50.80" x2="227.10" y1="286.42" y2="286.42" stroke="#f0f0f0" stroke-width="1"/>
<line x1="50.80" x2="227.10" y1="282.12" y2="282.12" stroke="#f0f0f0" stroke-width="1"/>
<line x1="50.80" x2="227.10" y1="277.81" y2="277.81" stroke="#f0f0f0" stroke-width="1"/>
<line x1="50.80" x2="227.10" y1="273.50" y2="273.50" stroke="#d4d4d4" stroke-width="1"/>
<text transform="translate(35.50,494.10) scale(0.83,1)" font-size="16" fill="#363636" text-anchor="end" stroke="#363636" stroke-width="0.3" xml:space="preserve">0</text>
<text transform="translate(35.50,472.56) scale(0.83,1)" font-size="16" fill="#363636" text-anchor="end" stroke="#363636" stroke-width="0.3" xml:space="preserve">5</text>
<text transform="translate(35.50,451.02) scale(0.83,1)" font-size="16" fill="#363636" text-anchor="end" stroke="#363636" stroke-width="0.3" xml:space="preserve">10</text>
<text transform="translate(35.50,429.48) scale(0.83,1)" font-size="16" fill="#363636" text-anchor="end" stroke="#363636" stroke-width="0.3" xml:space="preserve">15</text>
<text transform="translate(35.50,407.94) scale(0.83,1)" font-size="16" fill="#363636" text-anchor="end" stroke="#363636" stroke-width="0.3" xml:space="preserve">20</text>
<text transform="translate(35.50,386.40) scale(0.83,1)" font-size="16" fill="#363636" text-anchor="end" stroke="#363636" stroke-width="0.3" xml:space="preserve">25</text>
<text transform="translate(35.50,364.86) scale(0.83,1)" font-size="16" fill="#363636" text-anchor="end" stroke="#363636" stroke-width="0.3" xml:space="preserve">30</text>
<text transform="translate(35.50,343.32) scale(0.83,1)" font-size="16" fill="#363636" text-anchor="end" stroke="#363636" stroke-width="0.3" xml:space="preserve">35</text>
<text transform="translate(35.50,321.78) scale(0.83,1)" font-size="16" fill="#363636" text-anchor="end" stroke="#363636" stroke-width="0.3" xml:space="preserve">40</text>
<text transform="translate(35.50,300.24) scale(0.83,1)" font-size="16" fill="#363636" text-anchor="end" stroke="#363636" stroke-width="0.3" xml:space="preserve">45</text>
<text transform="translate(35.50,278.70) scale(0.83,1)" font-size="16" fill="#363636" text-anchor="end" stroke="#363636" stroke-width="0.3" xml:space="preserve">50</text>
<text transform="translate(12.50,430.59) rotate(-90) scale(0.955,1)" font-size="15.2" fill="#363636" text-anchor="start" stroke="#363636" stroke-width="0.2" xml:space="preserve">Tb.S</text>
<text transform="translate(12.50,393.16) rotate(-90) scale(0.955,1)" font-size="15.2" fill="#363636" text-anchor="start" stroke="#363636" stroke-width="0.2" xml:space="preserve">Error</text>
<text transform="translate(12.50,353.62) rotate(-90) scale(0.955,1)" font-size="15.2" fill="#363636" text-anchor="start" stroke="#363636" stroke-width="0.2" xml:space="preserve">(%)</text>
<path d="M54.42 488.90V473.78h16.95V488.90" fill="#ffffff" stroke="#141414" stroke-width="1.45"/>
<path d="M71.38 488.90V465.03h16.95V488.90" fill="#d9d9d9" stroke="#141414" stroke-width="1.45"/>
<path d="M88.32 488.90V476.54h16.95V488.90" fill="#a6a6a6" stroke="#141414" stroke-width="1.45"/>
<path d="M112.92 488.90V482.44h16.95V488.90" fill="#ffffff" stroke="#141414" stroke-width="1.45"/>
<path d="M129.88 488.90V480.50h16.95V488.90" fill="#d9d9d9" stroke="#141414" stroke-width="1.45"/>
<path d="M146.82 488.90V477.44h16.95V488.90" fill="#a6a6a6" stroke="#141414" stroke-width="1.45"/>
<path d="M171.43 488.90V485.80h16.95V488.90" fill="#ffffff" stroke="#141414" stroke-width="1.45"/>
<path d="M188.38 488.90V484.16h16.95V488.90" fill="#d9d9d9" stroke="#141414" stroke-width="1.45"/>
<path d="M205.33 488.90V482.74h16.95V488.90" fill="#a6a6a6" stroke="#141414" stroke-width="1.45"/>
<line x1="50.80" x2="227.10" y1="489.15" y2="489.15" stroke="#cccccc" stroke-width="1.1"/>
<path d="M62.90 460.60V487.22M59.40 460.60h7M59.40 487.22h7" stroke="#0a0a0a" stroke-width="2.3" fill="none"/>
<path d="M79.85 449.09V481.27M76.35 449.09h7M76.35 481.27h7" stroke="#0a0a0a" stroke-width="2.3" fill="none"/>
<path d="M96.80 468.78V484.72M93.30 468.78h7M93.30 484.72h7" stroke="#0a0a0a" stroke-width="2.3" fill="none"/>
<text transform="translate(79.05,508.90) scale(0.87,1)" font-size="16" fill="#363636" text-anchor="middle" stroke="#363636" stroke-width="0.3" xml:space="preserve">44</text>
<path d="M121.40 477.05V485.67M117.90 477.05h7M117.90 485.67h7" stroke="#0a0a0a" stroke-width="2.3" fill="none"/>
<path d="M138.35 474.12V487.61M134.85 474.12h7M134.85 487.61h7" stroke="#0a0a0a" stroke-width="2.3" fill="none"/>
<path d="M155.30 468.65V485.20M151.80 468.65h7M151.80 485.20h7" stroke="#0a0a0a" stroke-width="2.3" fill="none"/>
<text transform="translate(137.55,508.90) scale(0.87,1)" font-size="16" fill="#363636" text-anchor="middle" stroke="#363636" stroke-width="0.3" xml:space="preserve">65</text>
<path d="M179.90 482.87V488.04M176.40 482.87h7M176.40 488.04h7" stroke="#0a0a0a" stroke-width="2.3" fill="none"/>
<path d="M196.85 479.98V487.61M193.35 479.98h7M193.35 487.61h7" stroke="#0a0a0a" stroke-width="2.3" fill="none"/>
<path d="M213.80 475.55V487.61M210.30 475.55h7M210.30 487.61h7" stroke="#0a0a0a" stroke-width="2.3" fill="none"/>
<text transform="translate(196.95,508.90) scale(0.83,1)" font-size="16" fill="#363636" text-anchor="middle" letter-spacing="1.2" stroke="#363636" stroke-width="0.3" xml:space="preserve">130</text>
<line x1="315.60" x2="492.20" y1="484.59" y2="484.59" stroke="#f0f0f0" stroke-width="1"/>
<line x1="315.60" x2="492.20" y1="480.28" y2="480.28" stroke="#f0f0f0" stroke-width="1"/>
<line x1="315.60" x2="492.20" y1="475.98" y2="475.98" stroke="#f0f0f0" stroke-width="1"/>
<line x1="315.60" x2="492.20" y1="471.67" y2="471.67" stroke="#f0f0f0" stroke-width="1"/>
<line x1="315.60" x2="492.20" y1="467.36" y2="467.36" stroke="#d4d4d4" stroke-width="1"/>
<line x1="315.60" x2="492.20" y1="463.05" y2="463.05" stroke="#f0f0f0" stroke-width="1"/>
<line x1="315.60" x2="492.20" y1="458.74" y2="458.74" stroke="#f0f0f0" stroke-width="1"/>
<line x1="315.60" x2="492.20" y1="454.44" y2="454.44" stroke="#f0f0f0" stroke-width="1"/>
<line x1="315.60" x2="492.20" y1="450.13" y2="450.13" stroke="#f0f0f0" stroke-width="1"/>
<line x1="315.60" x2="492.20" y1="445.82" y2="445.82" stroke="#d4d4d4" stroke-width="1"/>
<line x1="315.60" x2="492.20" y1="441.51" y2="441.51" stroke="#f0f0f0" stroke-width="1"/>
<line x1="315.60" x2="492.20" y1="437.20" y2="437.20" stroke="#f0f0f0" stroke-width="1"/>
<line x1="315.60" x2="492.20" y1="432.90" y2="432.90" stroke="#f0f0f0" stroke-width="1"/>
<line x1="315.60" x2="492.20" y1="428.59" y2="428.59" stroke="#f0f0f0" stroke-width="1"/>
<line x1="315.60" x2="492.20" y1="424.28" y2="424.28" stroke="#d4d4d4" stroke-width="1"/>
<line x1="315.60" x2="492.20" y1="419.97" y2="419.97" stroke="#f0f0f0" stroke-width="1"/>
<line x1="315.60" x2="492.20" y1="415.66" y2="415.66" stroke="#f0f0f0" stroke-width="1"/>
<line x1="315.60" x2="492.20" y1="411.36" y2="411.36" stroke="#f0f0f0" stroke-width="1"/>
<line x1="315.60" x2="492.20" y1="407.05" y2="407.05" stroke="#f0f0f0" stroke-width="1"/>
<line x1="315.60" x2="492.20" y1="402.74" y2="402.74" stroke="#d4d4d4" stroke-width="1"/>
<line x1="315.60" x2="492.20" y1="398.43" y2="398.43" stroke="#f0f0f0" stroke-width="1"/>
<line x1="315.60" x2="492.20" y1="394.12" y2="394.12" stroke="#f0f0f0" stroke-width="1"/>
<line x1="315.60" x2="492.20" y1="389.82" y2="389.82" stroke="#f0f0f0" stroke-width="1"/>
<line x1="315.60" x2="492.20" y1="385.51" y2="385.51" stroke="#f0f0f0" stroke-width="1"/>
<line x1="315.60" x2="492.20" y1="381.20" y2="381.20" stroke="#d4d4d4" stroke-width="1"/>
<line x1="315.60" x2="492.20" y1="376.89" y2="376.89" stroke="#f0f0f0" stroke-width="1"/>
<line x1="315.60" x2="492.20" y1="372.58" y2="372.58" stroke="#f0f0f0" stroke-width="1"/>
<line x1="315.60" x2="492.20" y1="368.28" y2="368.28" stroke="#f0f0f0" stroke-width="1"/>
<line x1="315.60" x2="492.20" y1="363.97" y2="363.97" stroke="#f0f0f0" stroke-width="1"/>
<line x1="315.60" x2="492.20" y1="359.66" y2="359.66" stroke="#d4d4d4" stroke-width="1"/>
<line x1="315.60" x2="492.20" y1="355.35" y2="355.35" stroke="#f0f0f0" stroke-width="1"/>
<line x1="315.60" x2="492.20" y1="351.04" y2="351.04" stroke="#f0f0f0" stroke-width="1"/>
<line x1="315.60" x2="492.20" y1="346.74" y2="346.74" stroke="#f0f0f0" stroke-width="1"/>
<line x1="315.60" x2="492.20" y1="342.43" y2="342.43" stroke="#f0f0f0" stroke-width="1"/>
<line x1="315.60" x2="492.20" y1="338.12" y2="338.12" stroke="#d4d4d4" stroke-width="1"/>
<line x1="315.60" x2="492.20" y1="333.81" y2="333.81" stroke="#f0f0f0" stroke-width="1"/>
<line x1="315.60" x2="492.20" y1="329.50" y2="329.50" stroke="#f0f0f0" stroke-width="1"/>
<line x1="315.60" x2="492.20" y1="325.20" y2="325.20" stroke="#f0f0f0" stroke-width="1"/>
<line x1="315.60" x2="492.20" y1="320.89" y2="320.89" stroke="#f0f0f0" stroke-width="1"/>
<line x1="315.60" x2="492.20" y1="316.58" y2="316.58" stroke="#d4d4d4" stroke-width="1"/>
<line x1="315.60" x2="492.20" y1="312.27" y2="312.27" stroke="#f0f0f0" stroke-width="1"/>
<line x1="315.60" x2="492.20" y1="307.96" y2="307.96" stroke="#f0f0f0" stroke-width="1"/>
<line x1="315.60" x2="492.20" y1="303.66" y2="303.66" stroke="#f0f0f0" stroke-width="1"/>
<line x1="315.60" x2="492.20" y1="299.35" y2="299.35" stroke="#f0f0f0" stroke-width="1"/>
<line x1="315.60" x2="492.20" y1="295.04" y2="295.04" stroke="#d4d4d4" stroke-width="1"/>
<line x1="315.60" x2="492.20" y1="290.73" y2="290.73" stroke="#f0f0f0" stroke-width="1"/>
<line x1="315.60" x2="492.20" y1="286.42" y2="286.42" stroke="#f0f0f0" stroke-width="1"/>
<line x1="315.60" x2="492.20" y1="282.12" y2="282.12" stroke="#f0f0f0" stroke-width="1"/>
<line x1="315.60" x2="492.20" y1="277.81" y2="277.81" stroke="#f0f0f0" stroke-width="1"/>
<line x1="315.60" x2="492.20" y1="273.50" y2="273.50" stroke="#d4d4d4" stroke-width="1"/>
<text transform="translate(301.30,494.10) scale(0.83,1)" font-size="16" fill="#363636" text-anchor="end" stroke="#363636" stroke-width="0.3" xml:space="preserve">0</text>
<text transform="translate(301.30,472.56) scale(0.83,1)" font-size="16" fill="#363636" text-anchor="end" stroke="#363636" stroke-width="0.3" xml:space="preserve">5</text>
<text transform="translate(301.30,451.02) scale(0.83,1)" font-size="16" fill="#363636" text-anchor="end" stroke="#363636" stroke-width="0.3" xml:space="preserve">10</text>
<text transform="translate(301.30,429.48) scale(0.83,1)" font-size="16" fill="#363636" text-anchor="end" stroke="#363636" stroke-width="0.3" xml:space="preserve">15</text>
<text transform="translate(301.30,407.94) scale(0.83,1)" font-size="16" fill="#363636" text-anchor="end" stroke="#363636" stroke-width="0.3" xml:space="preserve">20</text>
<text transform="translate(301.30,386.40) scale(0.83,1)" font-size="16" fill="#363636" text-anchor="end" stroke="#363636" stroke-width="0.3" xml:space="preserve">25</text>
<text transform="translate(301.30,364.86) scale(0.83,1)" font-size="16" fill="#363636" text-anchor="end" stroke="#363636" stroke-width="0.3" xml:space="preserve">30</text>
<text transform="translate(301.30,343.32) scale(0.83,1)" font-size="16" fill="#363636" text-anchor="end" stroke="#363636" stroke-width="0.3" xml:space="preserve">35</text>
<text transform="translate(301.30,321.78) scale(0.83,1)" font-size="16" fill="#363636" text-anchor="end" stroke="#363636" stroke-width="0.3" xml:space="preserve">40</text>
<text transform="translate(301.30,300.24) scale(0.83,1)" font-size="16" fill="#363636" text-anchor="end" stroke="#363636" stroke-width="0.3" xml:space="preserve">45</text>
<text transform="translate(301.30,278.70) scale(0.83,1)" font-size="16" fill="#363636" text-anchor="end" stroke="#363636" stroke-width="0.3" xml:space="preserve">50</text>
<text transform="translate(277.10,435.69) rotate(-90) scale(0.955,1)" font-size="15.2" fill="#363636" text-anchor="start" stroke="#363636" stroke-width="0.2" xml:space="preserve">Tb.Th</text>
<text transform="translate(277.10,389.66) rotate(-90) scale(0.955,1)" font-size="15.2" fill="#363636" text-anchor="start" stroke="#363636" stroke-width="0.2" xml:space="preserve">Error</text>
<text transform="translate(277.10,350.47) rotate(-90) scale(0.955,1)" font-size="15.2" fill="#363636" text-anchor="start" stroke="#363636" stroke-width="0.2" xml:space="preserve">(%)</text>
<path d="M320.18 488.90V355.48h16.95V488.90" fill="#ffffff" stroke="#141414" stroke-width="1.45"/>
<path d="M337.12 488.90V324.33h16.95V488.90" fill="#d9d9d9" stroke="#141414" stroke-width="1.45"/>
<path d="M354.07 488.90V476.41h16.95V488.90" fill="#a6a6a6" stroke="#141414" stroke-width="1.45"/>
<path d="M378.73 488.90V424.80h16.95V488.90" fill="#ffffff" stroke="#141414" stroke-width="1.45"/>
<path d="M395.68 488.90V388.74h16.95V488.90" fill="#d9d9d9" stroke="#141414" stroke-width="1.45"/>
<path d="M412.62 488.90V476.41h16.95V488.90" fill="#a6a6a6" stroke="#141414" stroke-width="1.45"/>
<path d="M437.28 488.90V485.97h16.95V488.90" fill="#ffffff" stroke="#141414" stroke-width="1.45"/>
<path d="M454.23 488.90V457.45h16.95V488.90" fill="#d9d9d9" stroke="#141414" stroke-width="1.45"/>
<path d="M471.18 488.90V479.72h16.95V488.90" fill="#a6a6a6" stroke="#141414" stroke-width="1.45"/>
<line x1="315.60" x2="492.20" y1="489.15" y2="489.15" stroke="#cccccc" stroke-width="1.1"/>
<path d="M328.65 314.00V397.35M325.15 314.00h7M325.15 397.35h7" stroke="#0a0a0a" stroke-width="2.3" fill="none"/>
<path d="M345.60 275.65V373.88M342.10 275.65h7M342.10 373.88h7" stroke="#0a0a0a" stroke-width="2.3" fill="none"/>
<path d="M362.55 467.23V485.80M359.05 467.23h7M359.05 485.80h7" stroke="#555555" stroke-width="1.8" fill="none"/>
<text transform="translate(344.80,508.90) scale(0.87,1)" font-size="16" fill="#363636" text-anchor="middle" stroke="#363636" stroke-width="0.3" xml:space="preserve">44</text>
<path d="M387.20 404.03V445.39M383.70 404.03h7M383.70 445.39h7" stroke="#0a0a0a" stroke-width="2.3" fill="none"/>
<path d="M404.15 361.08V416.40M400.65 361.08h7M400.65 416.40h7" stroke="#0a0a0a" stroke-width="2.3" fill="none"/>
<path d="M421.10 467.23V485.80M417.60 467.23h7M417.60 485.80h7" stroke="#555555" stroke-width="1.8" fill="none"/>
<text transform="translate(403.35,508.90) scale(0.87,1)" font-size="16" fill="#363636" text-anchor="middle" stroke="#363636" stroke-width="0.3" xml:space="preserve">65</text>
<path d="M445.75 482.74V487.74M442.25 482.74h7M442.25 487.74h7" stroke="#0a0a0a" stroke-width="2.3" fill="none"/>
<path d="M462.70 446.81V467.27M459.20 446.81h7M459.20 467.27h7" stroke="#0a0a0a" stroke-width="2.3" fill="none"/>
<path d="M479.65 474.38V485.58M476.15 474.38h7M476.15 485.58h7" stroke="#555555" stroke-width="1.8" fill="none"/>
<text transform="translate(462.80,508.90) scale(0.83,1)" font-size="16" fill="#363636" text-anchor="middle" letter-spacing="1.2" stroke="#363636" stroke-width="0.3" xml:space="preserve">130</text>
<line x1="581.50" x2="757.60" y1="484.59" y2="484.59" stroke="#f0f0f0" stroke-width="1"/>
<line x1="581.50" x2="757.60" y1="480.28" y2="480.28" stroke="#f0f0f0" stroke-width="1"/>
<line x1="581.50" x2="757.60" y1="475.98" y2="475.98" stroke="#f0f0f0" stroke-width="1"/>
<line x1="581.50" x2="757.60" y1="471.67" y2="471.67" stroke="#f0f0f0" stroke-width="1"/>
<line x1="581.50" x2="757.60" y1="467.36" y2="467.36" stroke="#d4d4d4" stroke-width="1"/>
<line x1="581.50" x2="757.60" y1="463.05" y2="463.05" stroke="#f0f0f0" stroke-width="1"/>
<line x1="581.50" x2="757.60" y1="458.74" y2="458.74" stroke="#f0f0f0" stroke-width="1"/>
<line x1="581.50" x2="757.60" y1="454.44" y2="454.44" stroke="#f0f0f0" stroke-width="1"/>
<line x1="581.50" x2="757.60" y1="450.13" y2="450.13" stroke="#f0f0f0" stroke-width="1"/>
<line x1="581.50" x2="757.60" y1="445.82" y2="445.82" stroke="#d4d4d4" stroke-width="1"/>
<line x1="581.50" x2="757.60" y1="441.51" y2="441.51" stroke="#f0f0f0" stroke-width="1"/>
<line x1="581.50" x2="757.60" y1="437.20" y2="437.20" stroke="#f0f0f0" stroke-width="1"/>
<line x1="581.50" x2="757.60" y1="432.90" y2="432.90" stroke="#f0f0f0" stroke-width="1"/>
<line x1="581.50" x2="757.60" y1="428.59" y2="428.59" stroke="#f0f0f0" stroke-width="1"/>
<line x1="581.50" x2="757.60" y1="424.28" y2="424.28" stroke="#d4d4d4" stroke-width="1"/>
<line x1="581.50" x2="757.60" y1="419.97" y2="419.97" stroke="#f0f0f0" stroke-width="1"/>
<line x1="581.50" x2="757.60" y1="415.66" y2="415.66" stroke="#f0f0f0" stroke-width="1"/>
<line x1="581.50" x2="757.60" y1="411.36" y2="411.36" stroke="#f0f0f0" stroke-width="1"/>
<line x1="581.50" x2="757.60" y1="407.05" y2="407.05" stroke="#f0f0f0" stroke-width="1"/>
<line x1="581.50" x2="757.60" y1="402.74" y2="402.74" stroke="#d4d4d4" stroke-width="1"/>
<line x1="581.50" x2="757.60" y1="398.43" y2="398.43" stroke="#f0f0f0" stroke-width="1"/>
<line x1="581.50" x2="757.60" y1="394.12" y2="394.12" stroke="#f0f0f0" stroke-width="1"/>
<line x1="581.50" x2="757.60" y1="389.82" y2="389.82" stroke="#f0f0f0" stroke-width="1"/>
<line x1="581.50" x2="757.60" y1="385.51" y2="385.51" stroke="#f0f0f0" stroke-width="1"/>
<line x1="581.50" x2="757.60" y1="381.20" y2="381.20" stroke="#d4d4d4" stroke-width="1"/>
<line x1="581.50" x2="757.60" y1="376.89" y2="376.89" stroke="#f0f0f0" stroke-width="1"/>
<line x1="581.50" x2="757.60" y1="372.58" y2="372.58" stroke="#f0f0f0" stroke-width="1"/>
<line x1="581.50" x2="757.60" y1="368.28" y2="368.28" stroke="#f0f0f0" stroke-width="1"/>
<line x1="581.50" x2="757.60" y1="363.97" y2="363.97" stroke="#f0f0f0" stroke-width="1"/>
<line x1="581.50" x2="757.60" y1="359.66" y2="359.66" stroke="#d4d4d4" stroke-width="1"/>
<line x1="581.50" x2="757.60" y1="355.35" y2="355.35" stroke="#f0f0f0" stroke-width="1"/>
<line x1="581.50" x2="757.60" y1="351.04" y2="351.04" stroke="#f0f0f0" stroke-width="1"/>
<line x1="581.50" x2="757.60" y1="346.74" y2="346.74" stroke="#f0f0f0" stroke-width="1"/>
<line x1="581.50" x2="757.60" y1="342.43" y2="342.43" stroke="#f0f0f0" stroke-width="1"/>
<line x1="581.50" x2="757.60" y1="338.12" y2="338.12" stroke="#d4d4d4" stroke-width="1"/>
<line x1="581.50" x2="757.60" y1="333.81" y2="333.81" stroke="#f0f0f0" stroke-width="1"/>
<line x1="581.50" x2="757.60" y1="329.50" y2="329.50" stroke="#f0f0f0" stroke-width="1"/>
<line x1="581.50" x2="757.60" y1="325.20" y2="325.20" stroke="#f0f0f0" stroke-width="1"/>
<line x1="581.50" x2="757.60" y1="320.89" y2="320.89" stroke="#f0f0f0" stroke-width="1"/>
<line x1="581.50" x2="757.60" y1="316.58" y2="316.58" stroke="#d4d4d4" stroke-width="1"/>
<line x1="581.50" x2="757.60" y1="312.27" y2="312.27" stroke="#f0f0f0" stroke-width="1"/>
<line x1="581.50" x2="757.60" y1="307.96" y2="307.96" stroke="#f0f0f0" stroke-width="1"/>
<line x1="581.50" x2="757.60" y1="303.66" y2="303.66" stroke="#f0f0f0" stroke-width="1"/>
<line x1="581.50" x2="757.60" y1="299.35" y2="299.35" stroke="#f0f0f0" stroke-width="1"/>
<line x1="581.50" x2="757.60" y1="295.04" y2="295.04" stroke="#d4d4d4" stroke-width="1"/>
<line x1="581.50" x2="757.60" y1="290.73" y2="290.73" stroke="#f0f0f0" stroke-width="1"/>
<line x1="581.50" x2="757.60" y1="286.42" y2="286.42" stroke="#f0f0f0" stroke-width="1"/>
<line x1="581.50" x2="757.60" y1="282.12" y2="282.12" stroke="#f0f0f0" stroke-width="1"/>
<line x1="581.50" x2="757.60" y1="277.81" y2="277.81" stroke="#f0f0f0" stroke-width="1"/>
<line x1="581.50" x2="757.60" y1="273.50" y2="273.50" stroke="#d4d4d4" stroke-width="1"/>
<text transform="translate(567.60,494.10) scale(0.83,1)" font-size="16" fill="#363636" text-anchor="end" stroke="#363636" stroke-width="0.3" xml:space="preserve">0</text>
<text transform="translate(567.60,472.56) scale(0.83,1)" font-size="16" fill="#363636" text-anchor="end" stroke="#363636" stroke-width="0.3" xml:space="preserve">5</text>
<text transform="translate(567.60,451.02) scale(0.83,1)" font-size="16" fill="#363636" text-anchor="end" stroke="#363636" stroke-width="0.3" xml:space="preserve">10</text>
<text transform="translate(567.60,429.48) scale(0.83,1)" font-size="16" fill="#363636" text-anchor="end" stroke="#363636" stroke-width="0.3" xml:space="preserve">15</text>
<text transform="translate(567.60,407.94) scale(0.83,1)" font-size="16" fill="#363636" text-anchor="end" stroke="#363636" stroke-width="0.3" xml:space="preserve">20</text>
<text transform="translate(567.60,386.40) scale(0.83,1)" font-size="16" fill="#363636" text-anchor="end" stroke="#363636" stroke-width="0.3" xml:space="preserve">25</text>
<text transform="translate(567.60,364.86) scale(0.83,1)" font-size="16" fill="#363636" text-anchor="end" stroke="#363636" stroke-width="0.3" xml:space="preserve">30</text>
<text transform="translate(567.60,343.32) scale(0.83,1)" font-size="16" fill="#363636" text-anchor="end" stroke="#363636" stroke-width="0.3" xml:space="preserve">35</text>
<text transform="translate(567.60,321.78) scale(0.83,1)" font-size="16" fill="#363636" text-anchor="end" stroke="#363636" stroke-width="0.3" xml:space="preserve">40</text>
<text transform="translate(567.60,300.24) scale(0.83,1)" font-size="16" fill="#363636" text-anchor="end" stroke="#363636" stroke-width="0.3" xml:space="preserve">45</text>
<text transform="translate(567.60,278.70) scale(0.83,1)" font-size="16" fill="#363636" text-anchor="end" stroke="#363636" stroke-width="0.3" xml:space="preserve">50</text>
<text transform="translate(542.70,431.89) rotate(-90) scale(0.955,1)" font-size="15.2" fill="#363636" text-anchor="start" stroke="#363636" stroke-width="0.2" xml:space="preserve">Tb.N</text>
<text transform="translate(542.70,393.16) rotate(-90) scale(0.955,1)" font-size="15.2" fill="#363636" text-anchor="start" stroke="#363636" stroke-width="0.2" xml:space="preserve">Error</text>
<text transform="translate(542.70,354.37) rotate(-90) scale(0.955,1)" font-size="15.2" fill="#363636" text-anchor="start" stroke="#363636" stroke-width="0.2" xml:space="preserve">(%)</text>
<path d="M585.78 488.90V431.60h16.95V488.90" fill="#ffffff" stroke="#141414" stroke-width="1.45"/>
<path d="M602.73 488.90V420.19h16.95V488.90" fill="#d9d9d9" stroke="#141414" stroke-width="1.45"/>
<path d="M619.68 488.90V483.17h16.95V488.90" fill="#a6a6a6" stroke="#141414" stroke-width="1.45"/>
<path d="M644.43 488.90V463.18h16.95V488.90" fill="#ffffff" stroke="#141414" stroke-width="1.45"/>
<path d="M661.38 488.90V446.85h16.95V488.90" fill="#d9d9d9" stroke="#141414" stroke-width="1.45"/>
<path d="M678.33 488.90V482.09h16.95V488.90" fill="#a6a6a6" stroke="#141414" stroke-width="1.45"/>
<path d="M703.08 488.90V486.75h16.95V488.90" fill="#ffffff" stroke="#141414" stroke-width="1.45"/>
<path d="M720.03 488.90V472.79h16.95V488.90" fill="#d9d9d9" stroke="#141414" stroke-width="1.45"/>
<path d="M736.98 488.90V483.08h16.95V488.90" fill="#a6a6a6" stroke="#141414" stroke-width="1.45"/>
<line x1="581.50" x2="757.60" y1="489.15" y2="489.15" stroke="#cccccc" stroke-width="1.1"/>
<path d="M594.25 418.25V445.56M590.75 418.25h7M590.75 445.56h7" stroke="#0a0a0a" stroke-width="2.3" fill="none"/>
<path d="M611.20 405.32V435.70M607.70 405.32h7M607.70 435.70h7" stroke="#0a0a0a" stroke-width="2.3" fill="none"/>
<path d="M628.15 476.71V487.91M624.65 476.71h7M624.65 487.91h7" stroke="#0a0a0a" stroke-width="2.3" fill="none"/>
<text transform="translate(610.40,508.90) scale(0.87,1)" font-size="16" fill="#363636" text-anchor="middle" stroke="#363636" stroke-width="0.3" xml:space="preserve">44</text>
<path d="M652.90 452.45V473.09M649.40 452.45h7M649.40 473.09h7" stroke="#0a0a0a" stroke-width="2.3" fill="none"/>
<path d="M669.85 435.91V459.30M666.35 435.91h7M666.35 459.30h7" stroke="#0a0a0a" stroke-width="2.3" fill="none"/>
<path d="M686.80 475.63V486.83M683.30 475.63h7M683.30 486.83h7" stroke="#0a0a0a" stroke-width="2.3" fill="none"/>
<text transform="translate(669.05,508.90) scale(0.87,1)" font-size="16" fill="#363636" text-anchor="middle" stroke="#363636" stroke-width="0.3" xml:space="preserve">65</text>
<path d="M711.55 484.33V487.82M708.05 484.33h7M708.05 487.82h7" stroke="#0a0a0a" stroke-width="2.3" fill="none"/>
<path d="M728.50 466.50V480.41M725.00 466.50h7M725.00 480.41h7" stroke="#0a0a0a" stroke-width="2.3" fill="none"/>
<path d="M745.45 477.53V487.35M741.95 477.53h7M741.95 487.35h7" stroke="#0a0a0a" stroke-width="2.3" fill="none"/>
<text transform="translate(728.60,508.90) scale(0.83,1)" font-size="16" fill="#363636" text-anchor="middle" letter-spacing="1.2" stroke="#363636" stroke-width="0.3" xml:space="preserve">130</text>
<rect x="700.9" y="17.10" width="7.9" height="6.2" fill="#ffffff" stroke="#141414" stroke-width="1.4"/>
<text transform="translate(712.20,26.20) scale(0.95,1)" font-size="16" fill="#363636" text-anchor="start" stroke="#363636" stroke-width="0.2" xml:space="preserve">CGLS</text>
<rect x="700.9" y="38.40" width="7.9" height="7.6" fill="#d9d9d9" stroke="#141414" stroke-width="1.4"/>
<text transform="translate(712.20,47.10) scale(0.95,1)" font-size="16" fill="#363636" text-anchor="start" stroke="#363636" stroke-width="0.2" xml:space="preserve">TV</text>
<rect x="700.9" y="60.60" width="7.9" height="7.4" fill="#a6a6a6" stroke="#141414" stroke-width="1.4"/>
<text transform="translate(712.20,69.20) scale(0.95,1)" font-size="16" fill="#363636" text-anchor="start" stroke="#363636" stroke-width="0.2" xml:space="preserve">DART</text>
</svg>
</body></html>
